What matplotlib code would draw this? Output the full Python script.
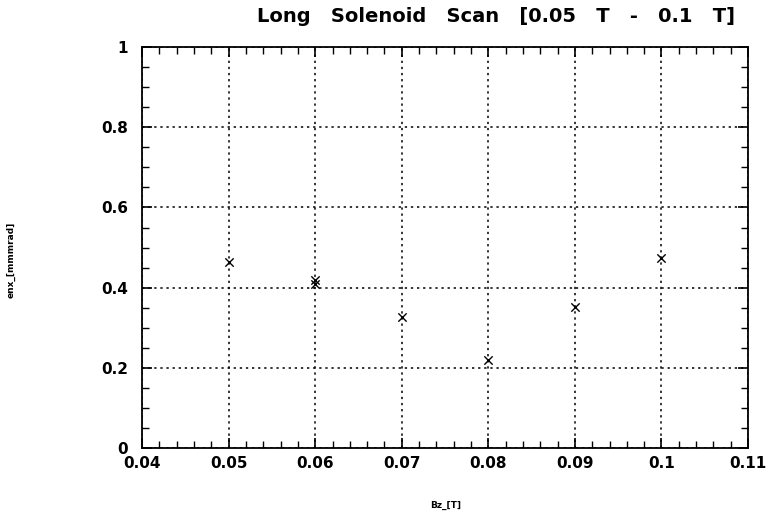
import matplotlib
matplotlib.use("Agg")
import matplotlib.pyplot as plt
from matplotlib.ticker import MultipleLocator, AutoMinorLocator

bz = [0.05, 0.06, 0.06, 0.07, 0.08, 0.09, 0.10]
enx = [0.463, 0.418, 0.410, 0.326, 0.219, 0.351, 0.475]

plt.rcParams['font.family'] = ['DejaVu Sans']
plt.rcParams['font.weight'] = 'bold'

fig = plt.figure(figsize=(7.72, 5.19), dpi=100)
ax = fig.add_axes([0.184, 0.137, 0.785, 0.772])

ax.scatter(bz, enx, marker='x', color='black', s=36, linewidths=1.0, zorder=3)

ax.set_xlim(0.04, 0.11)
ax.set_ylim(0, 1)
ax.xaxis.set_major_locator(MultipleLocator(0.01))
ax.yaxis.set_major_locator(MultipleLocator(0.2))
ax.xaxis.set_minor_locator(AutoMinorLocator(5))
ax.yaxis.set_minor_locator(AutoMinorLocator(4))
ax.xaxis.set_major_formatter(plt.FuncFormatter(lambda v, p: f"{v:g}"))
ax.yaxis.set_major_formatter(plt.FuncFormatter(lambda v, p: f"{v:g}"))

ax.tick_params(which='both', direction='in', top=True, right=True, labelsize=11)
ax.tick_params(which='major', length=7, width=1.2)
ax.tick_params(which='minor', length=5, width=1.0)
ax.tick_params(axis='x', pad=6)
ax.tick_params(axis='y', pad=10)
for s in ax.spines.values():
    s.set_linewidth(1.3)

ax.grid(True, which='major', linestyle=(0, (1.5, 2.5)), color='black', linewidth=1.1)

fig.text(0.642, 0.968, "Long   Solenoid   Scan   [0.05   T   -   0.1   T]",
         ha='center', va='center', fontsize=14, fontweight='bold')
fig.text(0.577, 0.026, "Bz_[T]", ha='center', va='center', fontsize=6.5, fontweight='bold')
fig.text(0.014, 0.5, "enx_[mmmrad]", ha='center', va='center', rotation=90,
         fontsize=6.5, fontweight='bold')

fig.savefig("out.png", dpi=100)
